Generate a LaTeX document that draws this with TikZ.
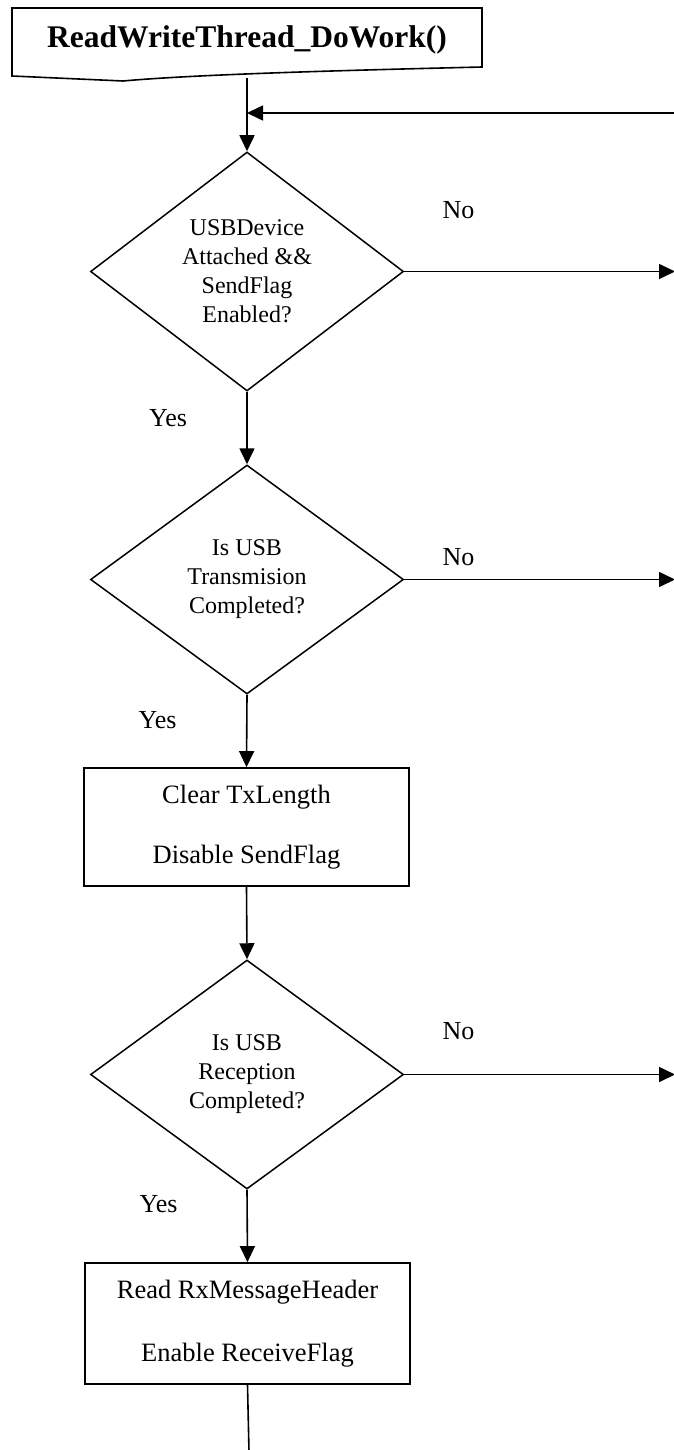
\documentclass[tikz,border=0pt]{standalone}
\usepackage{fontspec}
\setmainfont{Liberation Serif}
\usetikzlibrary{shapes.geometric,arrows.meta}

\begin{document}
\begin{tikzpicture}[x=1pt,y=-1pt,
  decision/.style={draw,line width=1.5pt,diamond,aspect=1.32,inner sep=0pt,
    minimum width=313pt,align=center,font=\fontsize{24}{29}\selectfont},
  process/.style={draw,line width=1.7pt,rectangle,minimum width=325pt,
    align=center,font=\fontsize{26.5}{30}\selectfont},
  lbl/.style={font=\fontsize{26}{30}\selectfont},
  flow/.style={line width=1.6pt,-{Triangle[length=16pt,width=15pt]}}]
\useasboundingbox (0,0) rectangle (674,1450);

% start block, document-shaped
\draw[line width=1.6pt] (12,8) -- (482,8) -- (482,67)
  .. controls (360,70) and (200,74) .. (123,81) -- (12,76) -- cycle;
\node[font=\fontsize{31.5}{34}\selectfont\bfseries] (title) at (247,40) {ReadWriteThread\_DoWork()};
\coordinate (titlebot) at (247,78);

% decisions and actions
\node[decision,minimum height=239pt] (d1) at (247,271.5) {USBDevice\\Attached \&\&\\SendFlag\\Enabled?};
\node[decision,minimum height=229pt] (d2) at (247,579.5) {Is USB\\Transmision\\Completed?};
\node[process,minimum height=118pt] (p1) at (246.5,827) {Clear TxLength\\[30pt]Disable SendFlag};
\node[decision,minimum height=229pt] (d3) at (247,1074.5) {Is USB\\Reception\\Completed?};
\node[process,minimum height=121pt] (p2) at (247.5,1323.5) {Read RxMessageHeader\\[33pt]Enable ReceiveFlag};

\node[lbl] (yes1) at (168,418) {Yes};
\node[lbl] (yes2) at (157.5,720) {Yes};
\node[lbl] (yes3) at (158.5,1204) {Yes};
\node[lbl] (no1) at (458.5,210) {No};
\node[lbl] (no2) at (458.5,557) {No};
\node[lbl] (no3) at (458.5,1031) {No};

% loop back and exits
\coordinate (loopin) at (674,113);
\coordinate (loopend) at (247,113);
\coordinate (out1) at (675,271.5);
\coordinate (out2) at (675,579.5);
\coordinate (out3) at (675,1074.5);
\coordinate (down) at (249,1452);

\draw[flow] (titlebot) -- (d1.north);
\draw[flow] (loopin) -- (loopend);
\draw[flow] (d1.south) -- (d2.north);
\draw[flow] (d2.south) -- (p1.north);
\draw[flow] (p1.south) -- (d3.north);
\draw[flow] (d3.south) -- (p2.north);
\draw[line width=1.6pt] (p2.south) -- (down);

\draw[flow] (d1.east) -- (out1);
\draw[flow] (d2.east) -- (out2);
\draw[flow] (d3.east) -- (out3);

\end{tikzpicture}
\end{document}
